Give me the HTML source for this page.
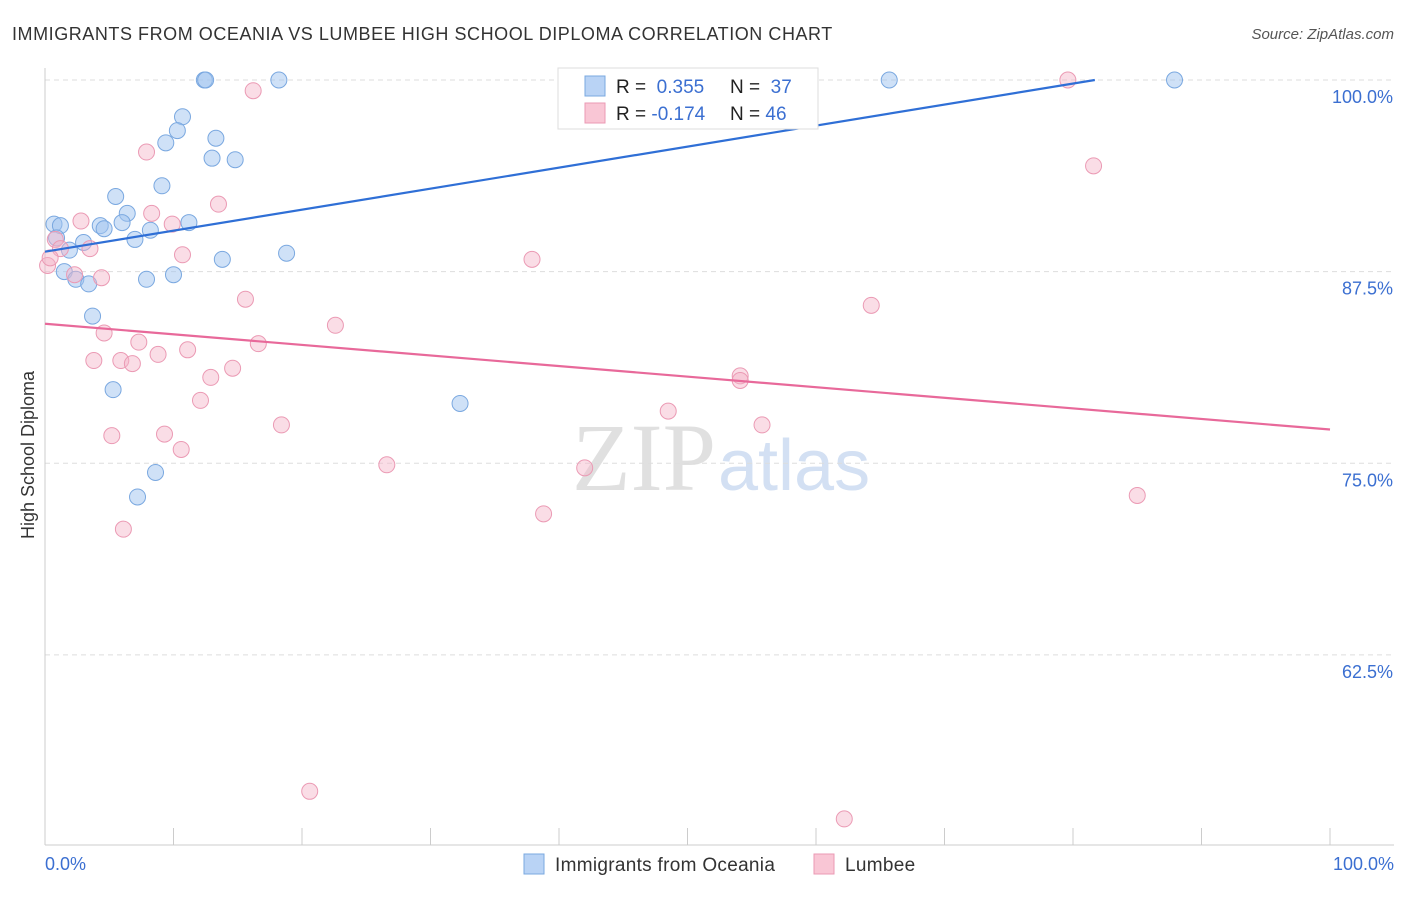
<!DOCTYPE html>
<html><head><meta charset="utf-8"><style>
body{margin:0;background:#fff;font-family:"Liberation Sans",sans-serif;}
svg text{font-family:"Liberation Sans",sans-serif;}
</style></head><body>
<svg id="c" width="1406" height="892">
<text x="12" y="40" font-size="18" fill="#333" letter-spacing="0.55">IMMIGRANTS FROM OCEANIA VS LUMBEE HIGH SCHOOL DIPLOMA CORRELATION CHART</text>
<text x="1394" y="39" font-size="15" fill="#555" font-style="italic" text-anchor="end">Source: ZipAtlas.com</text>
<text x="716" y="490" font-size="96" fill="#e0e0e0" text-anchor="end" style="font-family:'Liberation Serif',serif">ZIP</text>
<text x="718" y="490" font-size="72" fill="#d3e0f3">atlas</text>
<g id="grid"></g><g id="pts"></g><g id="lines"></g>
<text transform="translate(34,455) rotate(-90)" font-size="18" fill="#333" text-anchor="middle">High School Diploma</text>
<text x="45" y="870" font-size="18" fill="#3b6fd1">0.0%</text>
<text x="1394" y="870" font-size="18" fill="#3b6fd1" text-anchor="end">100.0%</text>
<g>
<rect x="558" y="68" width="260" height="61" fill="#fff" stroke="#ddd"/>
<rect x="585" y="76" width="20" height="20" fill="#b9d3f5" stroke="#7aa8e0"/>
<rect x="585" y="103" width="20" height="20" fill="#f9c6d5" stroke="#eb9ab4"/>
<text x="616" y="93" font-size="19" fill="#222">R = <tspan fill="#3b6fd1">&#160;0.355</tspan><tspan x="730">N = </tspan><tspan fill="#3b6fd1">&#160;37</tspan></text>
<text x="616" y="120" font-size="19" fill="#222">R = <tspan fill="#3b6fd1">-0.174</tspan><tspan x="730">N = </tspan><tspan fill="#3b6fd1">46</tspan></text>
</g>
<g>
<rect x="524" y="854" width="20" height="20" fill="#b9d3f5" stroke="#7aa8e0"/>
<text x="555" y="871" font-size="19" letter-spacing="0.3" fill="#333">Immigrants from Oceania</text>
<rect x="814" y="854" width="20" height="20" fill="#f9c6d5" stroke="#eb9ab4"/>
<text x="845" y="871" font-size="19" letter-spacing="0.3" fill="#333">Lumbee</text>
</g>
</svg>
<script>
const yTicks=[100,87.5,75,62.5];
const yTickLabels=["100.0%","87.5%","75.0%","62.5%"];
const xTicks=[0,10,20,30,40,50,60,70,80,90,100];
const blueX=[12.4,12.5,18.2,65.7,87.9,10.7,10.3,9.4,13.3,13.0,14.8,9.1,5.5,6.4,0.7,1.2,4.3,4.6,6.0,8.2,11.2,7.0,3.0,1.9,0.9,13.8,18.8,1.5,2.4,3.4,7.9,10.0,3.7,5.3,32.3,8.6,7.2];
const blueY=[100,100,100,100,100,97.6,96.7,95.9,96.2,94.9,94.8,93.1,92.4,91.3,90.6,90.5,90.5,90.3,90.7,90.2,90.7,89.6,89.4,88.9,89.7,88.3,88.7,87.5,87.0,86.7,87.0,87.3,84.6,79.8,78.9,74.4,72.8];
const pinkX=[79.6,16.2,81.6,7.9,13.5,8.3,2.8,9.9,0.8,1.2,3.5,10.7,0.2,2.3,4.4,37.9,15.6,64.3,22.6,4.6,7.3,16.6,11.1,8.8,3.8,5.9,6.8,14.6,12.9,54.1,54.1,12.1,48.5,18.4,55.8,5.2,9.3,10.6,26.6,42.0,85.0,38.8,6.1,20.6,62.2,0.4];
const pinkY=[100,99.3,94.4,95.3,91.9,91.3,90.8,90.6,89.6,89.0,89.0,88.6,87.9,87.3,87.1,88.3,85.7,85.3,84.0,83.5,82.9,82.8,82.4,82.1,81.7,81.7,81.5,81.2,80.6,80.7,80.4,79.1,78.4,77.5,77.5,76.8,76.9,75.9,74.9,74.7,72.9,71.7,70.7,53.6,51.8,88.4];
const blueTrend=[[0,88.8],[81.7,100]];
const pinkTrend=[[0,84.1],[100,77.2]];
const NS="http://www.w3.org/2000/svg";
const X=v=>45+v*12.85, Y=v=>80+(100-v)*15.33;
function mk(t,a,p){const e=document.createElementNS(NS,t);for(const k in a)e.setAttribute(k,a[k]);p.appendChild(e);return e;}
const grid=document.getElementById('grid');
yTicks.forEach((t,i)=>{
 const l=mk('line',{x1:45,x2:1394,y1:Y(t),y2:Y(t),stroke:'#ddd','stroke-dasharray':'5,4'},grid);
 
 
 const tx=mk('text',{x:1393,y:Y(t)+23,'font-size':18,fill:'#3b6fd1','text-anchor':'end'},grid);
 tx.textContent=yTickLabels[i];
 
 
});
const ax=mk('line',{x1:45,x2:45,y1:68,y2:845,stroke:'#ccc'},grid);


const bx=mk('line',{x1:45,x2:1394,y1:845,y2:845,stroke:'#ccc'},grid);


xTicks.forEach(t=>{
 const l=mk('line',{x1:X(t),x2:X(t),y1:828,y2:845,stroke:'#ccc'},grid);
 
 
});
const pts=document.getElementById('pts');
blueX.forEach((v,i)=>{
 const c=mk('circle',{cx:X(v),cy:Y(blueY[i]),r:8,fill:'rgba(160,196,240,0.5)',stroke:'#7aa8e0','stroke-width':1},pts);
 
 
});
pinkX.forEach((v,i)=>{
 const c=mk('circle',{cx:X(v),cy:Y(pinkY[i]),r:8,fill:'rgba(245,180,200,0.45)',stroke:'#eb9ab4','stroke-width':1},pts);
 
 
});
const lines=document.getElementById('lines');
const b=mk('line',{x1:X(blueTrend[0][0]),y1:Y(blueTrend[0][1]),x2:X(blueTrend[1][0]),y2:Y(blueTrend[1][1]),stroke:'#2f6fd6','stroke-width':2.2},lines);


const p=mk('line',{x1:X(pinkTrend[0][0]),y1:Y(pinkTrend[0][1]),x2:X(pinkTrend[1][0]),y2:Y(pinkTrend[1][1]),stroke:'#e8699a','stroke-width':2.2},lines);


</script>
</body></html>
